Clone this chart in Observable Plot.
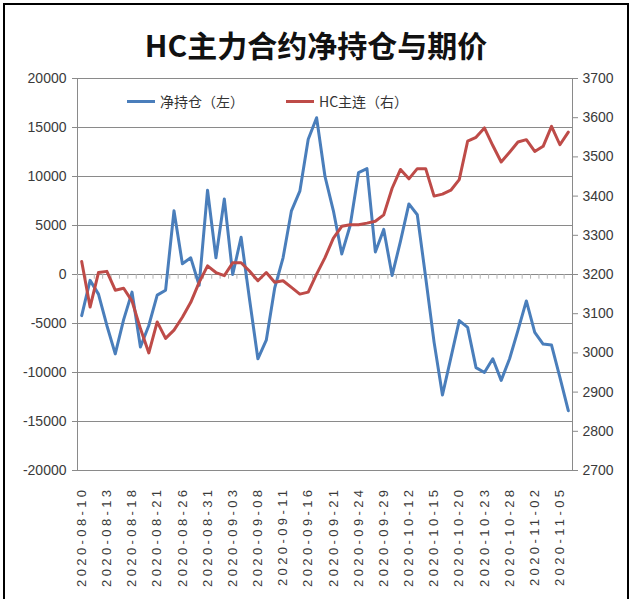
<!DOCTYPE html>
<html><head><meta charset="utf-8">
<script src="https://cdn.jsdelivr.net/npm/d3@7"></script>
<script src="https://cdn.jsdelivr.net/npm/@observablehq/plot@0.6"></script>
<style>
html,body{margin:0;padding:0;background:#fff;}
#wrap{position:relative;width:632px;height:599px;overflow:hidden;background:#fff;}
#border{position:absolute;left:3px;top:3px;width:626px;height:640px;border:2px solid #000;box-sizing:border-box;pointer-events:none;}
#title{height:62px;box-sizing:border-box;padding-top:26px;text-align:center;font-family:"Noto Sans CJK SC",sans-serif;font-weight:bold;font-size:30px;line-height:36px;color:#111;white-space:nowrap;}
.leg{position:absolute;top:91px;font-family:"Noto Sans CJK SC",sans-serif;font-size:14px;color:#333;display:flex;align-items:center;white-space:nowrap;}
.leg i{display:inline-block;width:28px;height:3px;margin-right:5px;}
svg{display:block;}
</style></head>
<body><div id="wrap">
<div id="title">HC主力合约净持仓与期价</div>
<div id="chart"></div>
<div class="leg" style="left:127px"><i style="background:#4a7ebb"></i>净持仓（左）</div>
<div class="leg" style="left:286px"><i style="background:#be4b48"></i>HC主连（右）</div>
<div id="border"></div>
</div>
<script>
const dates = ["2020-08-10","2020-08-11","2020-08-12","2020-08-13","2020-08-14","2020-08-17","2020-08-18","2020-08-19","2020-08-20","2020-08-21","2020-08-24","2020-08-25","2020-08-26","2020-08-27","2020-08-28","2020-08-31","2020-09-01","2020-09-02","2020-09-03","2020-09-04","2020-09-07","2020-09-08","2020-09-09","2020-09-10","2020-09-11","2020-09-14","2020-09-15","2020-09-16","2020-09-17","2020-09-18","2020-09-21","2020-09-22","2020-09-23","2020-09-24","2020-09-25","2020-09-28","2020-09-29","2020-09-30","2020-10-09","2020-10-12","2020-10-13","2020-10-14","2020-10-15","2020-10-16","2020-10-19","2020-10-20","2020-10-21","2020-10-22","2020-10-23","2020-10-26","2020-10-27","2020-10-28","2020-10-29","2020-10-30","2020-11-02","2020-11-03","2020-11-04","2020-11-05","2020-11-06"];
const netPosition = [-4200,-600,-2000,-5200,-8100,-4600,-1800,-7400,-5200,-2100,-1600,6500,1100,1700,-1100,8600,1700,7700,0,3800,-2500,-8600,-6700,-1400,1700,6500,8500,13800,16000,10000,6500,2100,5000,10400,10800,2300,4600,-100,3400,7200,6100,-300,-6900,-12300,-8500,-4700,-5400,-9500,-10000,-8600,-10800,-8600,-5700,-2700,-5900,-7100,-7200,-10500,-13900];
const hcPrice = [3233,3117,3205,3208,3160,3165,3132,3062,3000,3079,3037,3058,3091,3129,3180,3222,3205,3197,3230,3230,3209,3184,3205,3180,3184,3167,3150,3155,3201,3243,3293,3323,3327,3327,3331,3336,3352,3420,3468,3444,3470,3470,3400,3405,3415,3442,3540,3550,3574,3529,3487,3512,3538,3544,3514,3527,3578,3531,3563];
const leftTicks = [-20000,-15000,-10000,-5000,0,5000,10000,15000,20000];
const rightTicks = [2700,2800,2900,3000,3100,3200,3300,3400,3500,3600,3700];
const labelDates = dates.filter((d, i) => i % 3 === 0);

// right axis (price) mapped onto the left scale: 2700..3700 <-> -20000..20000
const toLeft = p => (p - 3200) * 40;
const fromLeft = v => Math.round(v / 40 + 3200);
const rows = dates.map((d, i) => ({date: d, net: netPosition[i], price: hcPrice[i]}));

const W = 632, ML = 77, MR = 60;
const step = (W - ML - MR) / dates.length;
const grid = "#8a8a8a";

const chart = Plot.plot({
  width: W, height: 537,
  marginLeft: ML, marginRight: MR, marginTop: 16, marginBottom: 129,
  style: {fontFamily: "'Liberation Sans', Arial, sans-serif", fontSize: "14px", color: "#3a3a3a", background: "#fff"},
  x: {type: "point", domain: dates, padding: 0.5, round: false, axis: null},
  y: {domain: [-20000, 20000], axis: null},
  marks: [
    Plot.ruleY(leftTicks, {stroke: grid, strokeWidth: 1}),
    Plot.frame({stroke: grid}),
    Plot.ruleX(dates, {x: d => d, y1: 0, y2: -480, dx: -step / 2, stroke: "#b5b5b5"}),
    Plot.axisY({anchor: "left", label: null, ticks: leftTicks, tickFormat: d => String(d), tickSize: 5, tickPadding: 6, stroke: grid, fill: "#3a3a3a"}),
    Plot.axisY({anchor: "right", label: null, ticks: rightTicks.map(toLeft), tickFormat: d => String(fromLeft(d)), tickSize: 5, tickPadding: 5, stroke: grid, fill: "#3a3a3a"}),
    Plot.axisX({anchor: "bottom", label: null, ticks: labelDates, tickRotate: -90, tickSize: 0, tickPadding: 16, fontSize: 13, fill: "#3a3a3a"}),
    Plot.lineY(rows, {x: "date", y: "net", stroke: "#4a7ebb", strokeWidth: 3, strokeLinejoin: "round"}),
    Plot.lineY(rows, {x: "date", y: d => toLeft(d.price), stroke: "#be4b48", strokeWidth: 3, strokeLinejoin: "round"})
  ]
});
document.getElementById("chart").appendChild(chart);
chart.querySelectorAll('g[aria-label="x-axis tick label"] text').forEach(t => t.style.letterSpacing = "3.4px");
</script>
</body></html>
